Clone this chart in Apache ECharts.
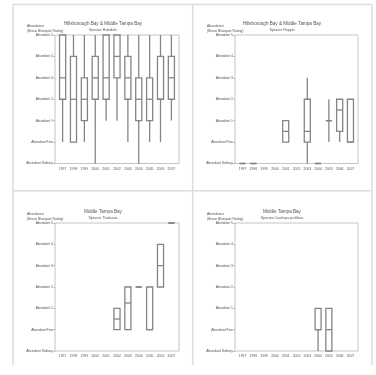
<!DOCTYPE html>
<html><head><meta charset="utf-8">
<script src="https://cdn.jsdelivr.net/npm/echarts@6/dist/echarts.min.js"></script>
<style>html,body{margin:0;padding:0;background:#fff}#c{width:376px;height:375px}</style>
</head><body><div id="c"></div>
<script>
const years = ['1997','1998','1999','2000','2001','2002','2003','2004','2005','2006','2007'];
const yLevels = ['Abundant Solitary','Abundant Few','Abundant 1','Abundant 2','Abundant 3','Abundant 4','Abundant 5'];
const panelTitles = ['Hillsborough Bay & Middle Tampa Bay','Hillsborough Bay & Middle Tampa Bay','Middle Tampa Bay','Middle Tampa Bay'];
const panelSpecies = ['Species Halodule','Species Ruppia','Species Thalassia','Species Caulerpa prolifera'];
// [min, q1, median, q3, max] per year (0 = Solitary ... 6 = Abundant 5)
const halodule = [[1,3,4,6,6],[1,1,3,5,6],[1,2,3,4,6],[0,3,4,5,6],[2,3,4,6,6],[2,4,5,6,6],[1,3,4,5,6],[0,2,3,4,6],[1,2,3,4,6],[1,3,3,5,6],[2,3,4,5,6]];
const ruppia = [[0,0,0,0,0],[0,0,0,0,0],null,null,[1,1,1.5,2,2],null,[0,1,1.5,3,4],[0,0,0,0,0],[1,2,2,2,3],[1,1.5,2.5,3,3],[1,1,1,3,3]];
const thalassia = [null,null,null,null,null,[1,1,1.5,2,2],[1,1,2.25,3,3],[3,3,3,3,3],[1,1,1,3,3],[3,3,4,5,5],[6,6,6,6,6]];
const caulerpa = [null,null,null,null,null,null,null,[0,1,1,2,2],[0,0,1,2,2],null,null];
const allData = [halodule, ruppia, thalassia, caulerpa];

const grids = [
  {left:55, top:35, width:124, height:128.5},
  {left:235, top:35, width:123, height:128.5},
  {left:55, top:223, width:124, height:128},
  {left:235, top:223, width:123, height:128}
];
const titleX = [103, 282, 103, 282];
const txt = '#555';
const ff = 'Liberation Sans';
const chart = echarts.init(document.getElementById('c'), null, {renderer:'canvas'});

function renderItem(params, api) {
  const x = api.value(0);
  const lo = api.coord([x, api.value(1)]);
  const q1 = api.coord([x, api.value(2)]);
  const md = api.coord([x, api.value(3)]);
  const q3 = api.coord([x, api.value(4)]);
  const hi = api.coord([x, api.value(5)]);
  const hw = api.size([0.56, 0])[0] / 2;
  const st = {stroke:'#858585', lineWidth:1.3, fill:null};
  return {type:'group', children:[
    {type:'line', shape:{x1:lo[0], y1:lo[1], x2:q1[0], y2:q1[1]}, style:st},
    {type:'line', shape:{x1:q3[0], y1:q3[1], x2:hi[0], y2:hi[1]}, style:st},
    {type:'rect', shape:{x:q3[0]-hw, y:q3[1], width:hw*2, height:q1[1]-q3[1]}, style:{stroke:'#858585', lineWidth:1.3, fill:'#fff'}},
    {type:'line', shape:{x1:md[0]-hw, y1:md[1], x2:md[0]+hw, y2:md[1]}, style:st}
  ]};
}

const xAxes = [], yAxes = [], series = [], graphics = [];
grids.forEach((g, i) => {
  xAxes.push({gridIndex:i, type:'value', min:-0.7, max:10.7,
    axisLine:{show:false, onZero:false}, splitLine:{show:false},
    axisTick:{show:false},
    axisLabel:{customValues:[0,1,2,3,4,5,6,7,8,9,10], formatter:v => years[Math.round(v)], fontSize:3.4, color:txt, fontFamily:ff, margin:4}});
  yAxes.push({gridIndex:i, type:'value', min:0, max:6, interval:1,
    axisLine:{show:false, onZero:false}, splitLine:{show:false},
    axisTick:{show:true, length:1.5, lineStyle:{color:'#aaa'}},
    axisLabel:{formatter:v => yLevels[v], fontSize:3.4, color:txt, fontFamily:ff, margin:2}});
  const d = [];
  allData[i].forEach((b, k) => { if (b) d.push([k].concat(b)); });
  series.push({type:'custom', xAxisIndex:i, yAxisIndex:i, renderItem, data:d, clip:false});
  graphics.push({type:'text', x:titleX[i], y:g.top - 11, style:{text:panelTitles[i], fontSize:4.6, fill:txt, fontFamily:ff, align:'center', verticalAlign:'middle'}});
  graphics.push({type:'text', x:titleX[i], y:g.top - 5.5, style:{text:panelSpecies[i], fontSize:3.6, fill:txt, fontFamily:ff, align:'center', verticalAlign:'middle'}});
  graphics.push({type:'text', x:g.left - 28, y:g.top - 9, style:{text:'Abundance', fontSize:3.4, fill:txt, fontFamily:ff, verticalAlign:'middle'}});
  graphics.push({type:'text', x:g.left - 28, y:g.top - 4, style:{text:'(Braun Blanquet Rating)', fontSize:3.4, fill:txt, fontFamily:ff, verticalAlign:'middle'}});
});
const frame = {stroke:'#dcdcdc', lineWidth:1.5};
[[13,4.5,372,4.5],[13,4.5,13,365],[372,4.5,372,365],[192.7,4.5,192.7,365],[13,190.7,372,190.7]].forEach(l => {
  graphics.push({type:'line', shape:{x1:l[0], y1:l[1], x2:l[2], y2:l[3]}, style:frame, silent:true});
});

chart.setOption({
  backgroundColor:'#fff',
  animation:false,
  grid:grids.map(g => Object.assign({show:true, borderColor:'#c4c4c4', borderWidth:1, backgroundColor:'#fff'}, g)),
  xAxis:xAxes,
  yAxis:yAxes,
  series:series,
  graphic:graphics
});
</script></body></html>
